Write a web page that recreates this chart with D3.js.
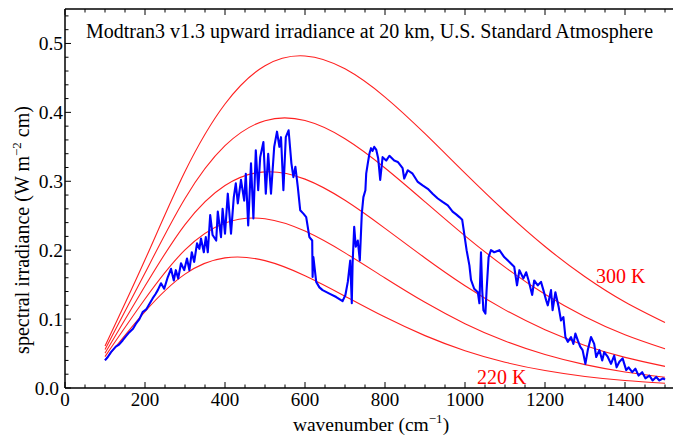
<!DOCTYPE html>
<html><head><meta charset="utf-8">
<script src="https://cdn.jsdelivr.net/npm/d3@7"></script>
<style>
html,body{margin:0;padding:0;background:#fff;}
svg{display:block;}
text{font-family:"Liberation Serif","Times New Roman",serif;}
</style></head>
<body>
<svg id="chart" width="673" height="439"></svg>
<script>
// Planck curve samples (wavenumber in cm^-1)
const planckWavenumbers = [100,200,300,400,500,600,700,800,900,1000,1100,1200,1300,1400,1500];
const planck300 = [0.0608,0.1860,0.3141,0.4121,0.4677,0.4819,0.4632,0.4222,0.3690,0.3117,0.2561,0.2053,0.1614,0.1247,0.0949];
const planck280 = [0.0557,0.1668,0.2751,0.3516,0.3879,0.3881,0.3617,0.3193,0.2702,0.2208,0.1754,0.1360,0.1034,0.0772,0.0568];
const planck260 = [0.0506,0.1479,0.2372,0.2939,0.3137,0.3031,0.2724,0.2317,0.1887,0.1484,0.1134,0.0846,0.0618,0.0444,0.0314];
const planck240 = [0.0456,0.1292,0.2004,0.2394,0.2457,0.2277,0.1961,0.1596,0.1243,0.0934,0.0682,0.0486,0.0339,0.0233,0.0157];
const planck220 = [0.0405,0.1109,0.1653,0.1888,0.1848,0.1629,0.1333,0.1029,0.0760,0.0541,0.0374,0.0253,0.0167,0.0108,0.0069];

// Modtran spectrum
const modWavenumbers = [100,107,115,127,135,144,152,161,170,177,186,194,203,211,219,226,232,240,248,257,265,272,277,283,290,298,305,311,317,323,330,336,340,347,352,357,363,369,378,382,390,394,400,407,415,422,427,432,440,448,452,458,465,471,477,483,488,496,502,508,515,523,530,536,540,546,552,559,566,571,576,582,588,596,603,611,618,619,621,628,636,644,661,678,694,701,707,713,717,719,723,727,732,737,742,746,751,753,757,761,765,769,773,778,783,788,794,803,811,823,832,844,848,857,869,882,894,907,919,932,944,957,969,978,986,993,998,1004,1011,1015,1023,1032,1036,1040,1043,1046,1051,1054,1059,1065,1073,1086,1098,1111,1123,1130,1136,1146,1153,1159,1168,1173,1182,1190,1196,1203,1207,1215,1219,1226,1234,1240,1246,1251,1257,1265,1271,1276,1282,1288,1294,1301,1307,1315,1323,1328,1336,1343,1348,1357,1365,1373,1379,1386,1394,1403,1409,1418,1426,1434,1443,1451,1461,1469,1478,1486,1495,1500];
const modIrradiance = [0.040,0.045,0.052,0.060,0.063,0.069,0.075,0.081,0.086,0.093,0.100,0.110,0.114,0.122,0.130,0.136,0.142,0.152,0.144,0.161,0.173,0.156,0.171,0.159,0.181,0.171,0.188,0.171,0.197,0.183,0.210,0.202,0.217,0.197,0.219,0.197,0.251,0.222,0.214,0.256,0.219,0.260,0.224,0.282,0.224,0.277,0.297,0.268,0.302,0.272,0.311,0.236,0.326,0.246,0.345,0.287,0.335,0.357,0.282,0.340,0.282,0.350,0.372,0.350,0.364,0.287,0.364,0.374,0.326,0.306,0.321,0.292,0.258,0.253,0.248,0.219,0.214,0.161,0.190,0.154,0.146,0.142,0.137,0.132,0.126,0.135,0.154,0.185,0.123,0.181,0.234,0.205,0.214,0.185,0.253,0.277,0.287,0.311,0.326,0.340,0.348,0.344,0.350,0.346,0.333,0.302,0.335,0.330,0.337,0.330,0.328,0.319,0.304,0.316,0.311,0.299,0.294,0.289,0.282,0.275,0.270,0.265,0.256,0.252,0.248,0.244,0.224,0.200,0.178,0.157,0.144,0.139,0.123,0.197,0.142,0.113,0.108,0.142,0.190,0.200,0.197,0.200,0.190,0.183,0.176,0.149,0.171,0.159,0.168,0.156,0.135,0.156,0.149,0.154,0.142,0.127,0.120,0.142,0.113,0.139,0.118,0.098,0.103,0.074,0.067,0.074,0.064,0.079,0.069,0.060,0.055,0.035,0.055,0.074,0.064,0.045,0.055,0.040,0.052,0.045,0.035,0.047,0.030,0.038,0.043,0.026,0.030,0.023,0.028,0.018,0.023,0.014,0.018,0.011,0.016,0.011,0.014,0.012];

const xMajorTicks = [0,200,400,600,800,1000,1200,1400];
const yMajorTicks = [0.0,0.1,0.2,0.3,0.4,0.5];
const yTickLabels = ["0.0","0.1","0.2","0.3","0.4","0.5"];

const svg = d3.select("#chart");
const L = 65, R = 673, T = 9, B = 388;
const x = d3.scaleLinear().domain([0, 1520]).range([L, L + 1520*0.4]);
const y = d3.scaleLinear().domain([0, 0.55]).range([B, T]);

svg.append("clipPath").attr("id","clip").append("rect")
  .attr("x",L).attr("y",T).attr("width",R-L).attr("height",B-T);

const gPlot = svg.append("g").attr("clip-path","url(#clip)");

const planckLine = d3.line().x(d=>x(d[0])).y(d=>y(d[1])).curve(d3.curveNatural);
[planck220, planck240, planck260, planck280, planck300].forEach(vals=>{
  gPlot.append("path")
    .datum(planckWavenumbers.map((w,i)=>[w, vals[i]]))
    .attr("fill","none").attr("stroke","#ff2020").attr("stroke-width",1.1)
    .attr("d", planckLine);
});

gPlot.append("path")
  .datum(modWavenumbers.map((w,i)=>[w, modIrradiance[i]]))
  .attr("fill","none").attr("stroke","#0000ff").attr("stroke-width",2.1)
  .attr("stroke-linejoin","round")
  .attr("d", d3.line().x(d=>x(d[0])).y(d=>y(d[1])));

// frame (right side lies beyond the picture)
const gF = svg.append("g").attr("stroke","#000").attr("stroke-width",1.5).attr("fill","none");
gF.append("line").attr("x1",L).attr("x2",R).attr("y1",T).attr("y2",T);
gF.append("line").attr("x1",L).attr("x2",R).attr("y1",B).attr("y2",B);
gF.append("line").attr("x1",L).attr("x2",L).attr("y1",T).attr("y2",B);

// ticks
const gT = svg.append("g").attr("stroke","#000").attr("stroke-width",1);
d3.range(0, 1501, 50).forEach(v=>{
  const len = v % 200 === 0 ? 6 : 3.5;
  gT.append("line").attr("x1",x(v)).attr("x2",x(v)).attr("y1",B).attr("y2",B-len);
  gT.append("line").attr("x1",x(v)).attr("x2",x(v)).attr("y1",T).attr("y2",T+len);
});
d3.range(0, 28).map(i=>i*0.02).forEach(v=>{
  const major = Math.abs(Math.round(v*10)-v*10) < 1e-6;
  const len = major ? 6 : 3.5;
  gT.append("line").attr("y1",y(v)).attr("y2",y(v)).attr("x1",L).attr("x2",L+len);
});

// tick labels
svg.append("g").selectAll("text").data(xMajorTicks).join("text")
  .attr("x",d=>x(d)).attr("y",B+18).attr("text-anchor","middle")
  .attr("font-size",19).attr("fill","#000").text(d=>d);
svg.append("g").selectAll("text").data(yMajorTicks).join("text")
  .attr("x",d=>d===0 ? L-6 : L-2).attr("y",d=>y(d)+6.5).attr("text-anchor","end")
  .attr("font-size",19.5).attr("fill","#000").text((d,i)=>yTickLabels[i]);

// title
svg.append("text").attr("x",86).attr("y",38).attr("font-size",20).attr("fill","#000")
  .text("Modtran3 v1.3 upward irradiance at 20 km, U.S. Standard Atmosphere");

// axis labels
const xl = svg.append("text").attr("x",371).attr("y",431).attr("text-anchor","middle")
  .attr("font-size",19.5).attr("fill","#000");
xl.append("tspan").text("wavenumber (cm");
xl.append("tspan").attr("dy",-8).attr("font-size",13).text("\u22121");
xl.append("tspan").attr("dy",8).text(")");

const yl = svg.append("text").attr("transform","translate(29,230) rotate(-90)")
  .attr("text-anchor","middle").attr("font-size",20).attr("fill","#000");
yl.append("tspan").text("spectral irradiance (W  m");
yl.append("tspan").attr("dy",-8).attr("font-size",13).text("\u22122");
yl.append("tspan").attr("dy",8).text(" cm)");

// curve labels
svg.append("text").attr("x",596).attr("y",283).attr("font-size",20).attr("fill","#ff0000").text("300 K");
svg.append("text").attr("x",477).attr("y",384).attr("font-size",20).attr("fill","#ff0000").text("220 K");
</script>
</body></html>
